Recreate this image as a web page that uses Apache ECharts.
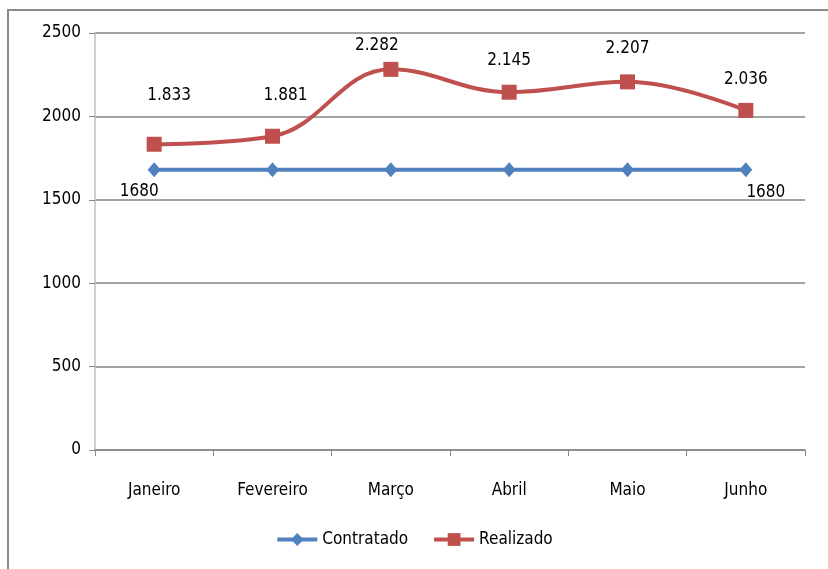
<!DOCTYPE html>
<html><head><meta charset="utf-8">
<script src="https://cdn.jsdelivr.net/npm/echarts@6/dist/echarts.min.js"></script>
<style>html,body{margin:0;padding:0;background:#fff}#c{width:828px;height:569px}</style>
</head><body><div id="c"></div>
<script>
const categories = ['Janeiro','Fevereiro','Março','Abril','Maio','Junho'];
const contratado = [1680,1680,1680,1680,1680,1680];
const realizado = [1833,1881,2282,2145,2207,2036];
const yTicks = [0,500,1000,1500,2000,2500];

const FONT = "'Liberation Sans Narrow','DejaVu Sans Condensed',sans-serif";
const realLabelDist = [33,25,8,16,17,15];
const realLabelDx = [15,13,-14,0,0,0];
const fmt = v => { const s = String(v); return s.length > 3 ? s.slice(0, s.length-3) + '.' + s.slice(-3) : s; };

const realData = realizado.map((v,i) => ({value: v, label: {distance: realLabelDist[i], offset: [realLabelDx[i], 0]}}));
const contData = contratado.map((v,i) => {
  if (i === 0) return {value: v, label: {show: true, position: 'bottom', offset: [-15, 0]}};
  if (i === contratado.length-1) return {value: v, label: {show: true, position: 'bottom', offset: [20, 1]}};
  return {value: v};
});

const chart = echarts.init(document.getElementById('c'));
chart.setOption({
  animation: false,
  graphic: [{type:'rect', shape:{x:8,y:10,width:900,height:700}, style:{fill:'none', stroke:'#8c8c8c', lineWidth:2}}],
  grid: {left: 95, right: 23, top: 33, bottom: 119},
  legend: {
    bottom: 16, left: 'center', itemWidth: 40, itemHeight: 16, itemGap: 24,
    textStyle: {fontFamily: FONT, fontSize: 17, color: '#000'},
    data: [
      {name: 'Contratado', lineStyle: {width: 4}},
      {name: 'Realizado', lineStyle: {width: 4}}
    ]
  },
  xAxis: {
    type: 'category', data: categories, boundaryGap: true,
    axisLine: {lineStyle: {color: '#868686', width: 1.5}},
    axisTick: {show: true, length: 6, lineStyle: {color: '#868686'}},
    axisLabel: {fontFamily: FONT, fontSize: 17, color: '#000', margin: 32}
  },
  yAxis: {
    type: 'value', min: 0, max: 2500, interval: 500,
    axisLine: {show: true, lineStyle: {color: '#c0c0c0', width: 1.5}},
    axisTick: {show: true, length: 6, lineStyle: {color: '#868686'}},
    splitLine: {lineStyle: {color: '#868686', width: 1.5}},
    axisLabel: {fontFamily: FONT, fontSize: 17, color: '#000', margin: 14,
      formatter: v => yTicks.includes(v) ? String(v) : ''}
  },
  series: [
    {
      name: 'Contratado', type: 'line', data: contData,
      symbol: 'diamond', symbolSize: [13, 15],
      lineStyle: {color: '#4F81BD', width: 4},
      itemStyle: {color: '#4F81BD'},
      label: {show: false, fontFamily: FONT, fontSize: 17, color: '#000', distance: 6}
    },
    {
      name: 'Realizado', type: 'line', data: realData, smooth: 0.4,
      symbol: 'rect', symbolSize: 15,
      lineStyle: {color: '#C0504D', width: 4},
      itemStyle: {color: '#C0504D'},
      label: {show: true, position: 'top', fontFamily: FONT, fontSize: 17, color: '#000',
        formatter: p => fmt(p.value)}
    }
  ]
});
</script></body></html>
